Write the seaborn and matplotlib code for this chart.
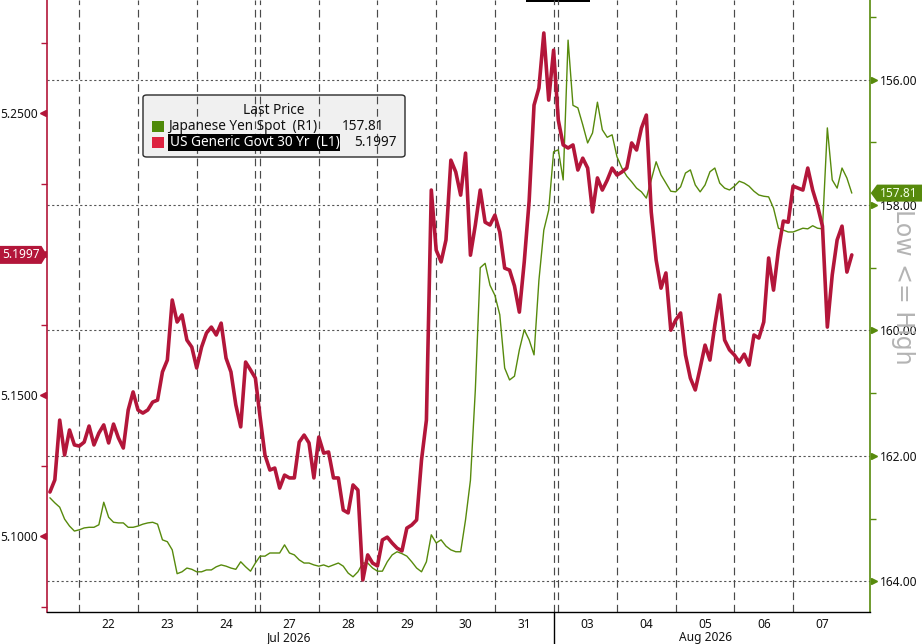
import numpy as np
import pandas as pd
import matplotlib
matplotlib.use("Agg")
import matplotlib.pyplot as plt
import matplotlib.transforms as mtransforms
from matplotlib.patches import Polygon, FancyBboxPatch, Rectangle
import seaborn as sns

# ---------------- data ----------------
days = ["21", "22", "23", "24", "27", "28", "29", "30", "31", "03", "04", "05", "06", "07"]
months = ["Jul 2026"] * 9 + ["Aug 2026"] * 5
weekend_after = ["24", "31"]          # a weekend follows these sessions
samples_per_day = [6, 12, 12, 13, 12, 12, 12, 12, 13, 12, 12, 12, 12, 13]

# US Generic Govt 30 Yr yield, sampled every 1/12 of a session
yld_values = [
    5.1156, 5.1199, 5.1411, 5.1287, 5.1376, 5.1323,                                   # 21
    5.1319, 5.1333, 5.1390, 5.1323, 5.1365, 5.1394, 5.1330, 5.1397, 5.1348, 5.1312, 5.1447, 5.1511,  # 22
    5.1447, 5.1436, 5.1447, 5.1475, 5.1482, 5.1582, 5.1624, 5.1837, 5.1759, 5.1784, 5.1695, 5.1670,  # 23
    5.1596, 5.1670, 5.1720, 5.1741, 5.1713, 5.1755, 5.1631, 5.1582, 5.1465, 5.1387, 5.1617, 5.1589, 5.1560,  # 24
    5.1422, 5.1287, 5.1234, 5.1241, 5.1170, 5.1216, 5.1206, 5.1206, 5.1333, 5.1358, 5.1330, 5.1206,  # 27
    5.1351, 5.1294, 5.1298, 5.1206, 5.1206, 5.1092, 5.1082, 5.1181, 5.1163, 5.0844, 5.0933, 5.0904,  # 28
    5.0894, 5.0986, 5.0996, 5.0975, 5.0957, 5.0947, 5.1028, 5.1039, 5.1057, 5.1270, 5.1411, 5.2227,  # 29
    5.2014, 5.1972, 5.2050, 5.2333, 5.2291, 5.2209, 5.2358, 5.1996, 5.2103, 5.2227, 5.2113, 5.2103,  # 30
    5.2138, 5.2078, 5.1950, 5.1943, 5.1887, 5.1794, 5.1972, 5.2188, 5.2528, 5.2589, 5.2784, 5.2546, 5.2723,  # 31
    5.2475, 5.2387, 5.2376, 5.2387, 5.2298, 5.2340, 5.2305, 5.2149, 5.2270, 5.2227, 5.2262, 5.2305,  # 03
    5.2280, 5.2291, 5.2305, 5.2394, 5.2369, 5.2447, 5.2493, 5.2149, 5.1979, 5.1879, 5.1933, 5.1730,  # 04
    5.1766, 5.1791, 5.1642, 5.1560, 5.1518, 5.1596, 5.1677, 5.1624, 5.1748, 5.1855, 5.1695, 5.1660,  # 05
    5.1642, 5.1617, 5.1645, 5.1606, 5.1713, 5.1702, 5.1759, 5.1986, 5.1872, 5.2014, 5.2117, 5.2113,  # 06
    5.2241, 5.2234, 5.2227, 5.2305, 5.2227, 5.2170, 5.2099, 5.1741, 5.1926, 5.2050, 5.2099, 5.1936, 5.1997,  # 07
]

# Japanese Yen Spot (USDJPY), same sampling
yen_values = [
    162.67, 162.75, 162.82, 163.01, 163.12, 163.20,                                   # 21
    163.18, 163.15, 163.14, 163.14, 163.10, 162.74, 162.98, 163.06, 163.07, 163.07, 163.14, 163.14,  # 22
    163.12, 163.09, 163.07, 163.06, 163.09, 163.34, 163.37, 163.50, 163.88, 163.85, 163.79, 163.81,  # 23
    163.85, 163.85, 163.82, 163.82, 163.77, 163.74, 163.76, 163.79, 163.81, 163.69, 163.77, 163.84, 163.71,  # 24
    163.60, 163.60, 163.55, 163.55, 163.55, 163.42, 163.55, 163.58, 163.66, 163.71, 163.71, 163.74,  # 27
    163.76, 163.74, 163.77, 163.74, 163.71, 163.76, 163.87, 163.93, 163.85, 163.71, 163.71, 163.79,  # 28
    163.84, 163.84, 163.69, 163.58, 163.53, 163.56, 163.60, 163.69, 163.79, 163.85, 163.69, 163.26,  # 29
    163.39, 163.34, 163.44, 163.50, 163.53, 163.53, 163.02, 162.39, 160.95, 159.00, 158.93, 159.28,  # 30
    159.44, 159.75, 160.60, 160.79, 160.73, 160.31, 159.99, 160.15, 160.39, 159.20, 158.40, 158.08, 157.15,  # 31
    157.12, 157.60, 155.37, 156.41, 156.45, 156.72, 157.01, 156.85, 156.36, 156.80, 156.92, 156.88,  # 03
    157.23, 157.41, 157.54, 157.63, 157.73, 157.79, 157.89, 157.60, 157.31, 157.52, 157.65, 157.78,  # 04
    157.79, 157.71, 157.49, 157.44, 157.68, 157.79, 157.68, 157.47, 157.41, 157.65, 157.73, 157.76,  # 05
    157.70, 157.62, 157.65, 157.70, 157.78, 157.84, 157.86, 157.87, 158.05, 158.37, 158.40, 158.43,  # 06
    158.43, 158.40, 158.37, 158.38, 158.33, 158.37, 158.38, 156.77, 157.60, 157.73, 157.41, 157.57, 157.81,  # 07
]

last_yen = 157.81
last_yld = 5.1997
yen_name = "Japanese Yen Spot  (R1)"
yld_name = "US Generic Govt 30 Yr  (L1)"
legend_title = "Last Price"

yen_ticks = [156, 158, 160, 162, 164]
yen_minor = [155, 157, 159, 161, 163]
yld_ticks = [5.10, 5.15, 5.20, 5.25]
yld_minor = [5.075, 5.125, 5.175, 5.225, 5.275]

# ---------------- layout / style ----------------
W, H = 922, 644
RED = "#B3163A"
RED_SQ = "#DD2240"
GREEN = "#578A0C"
GREEN_SQ = "#4F8A0A"
SPD = 12
GAP = 0.08
FS = 8.6
LFS = 9.8

sns.set_style("white")
plt.rcParams["font.family"] = ["Noto Sans", "DejaVu Sans"]

# trading-time x positions with small weekend gaps
day_x0 = []
off = 0.0
for k, d in enumerate(days):
    day_x0.append(k + off)
    if d in weekend_after:
        off += GAP

xs = []
for k, n in enumerate(samples_per_day):
    j0 = SPD - n if k == 0 else 0
    for j in range(n):
        xs.append(day_x0[k] + (j0 + j) / SPD)

df = pd.DataFrame({"x": xs, "yld": yld_values, "yen": yen_values})

fig = plt.figure(figsize=(W / 100, H / 100), dpi=100)
ax = fig.add_axes([47 / W, 32 / H, 823 / W, 612 / H])
ax2 = ax.twinx()
ax.set_zorder(3)
ax2.set_zorder(2)
ax.patch.set_visible(False)

x_lo, x_hi = 0.45, 14.47
yld_lo, yld_hi = 5.07305, 5.2901
yen_bot, yen_top = 164.491, 154.730
ax.set_xlim(x_lo, x_hi)
ax.set_ylim(yld_lo, yld_hi)
ax2.set_ylim(yen_bot, yen_top)

# grid: dotted horizontals on yen axis, dashed session boundaries
for v in yen_ticks:
    ax2.axhline(v, color="#555555", lw=0.8, ls=(0, (2, 2.2)), zorder=0.5)
bounds = []
for k in range(1, len(days)):
    if days[k - 1] in weekend_after:
        bounds.append(day_x0[k - 1] + 1)
    bounds.append(day_x0[k])
for b in bounds:
    ax2.axvline(b, color="#4a4a4a", lw=0.85, ls=(0, (6.5, 4)), zorder=0.6)

# series
sns.lineplot(data=df, x="x", y="yen", ax=ax2, color=GREEN, lw=1.0,
             estimator=None, sort=False, zorder=2)
sns.lineplot(data=df, x="x", y="yld", ax=ax, color=RED, lw=2.6,
             estimator=None, sort=False, zorder=3,
             solid_joinstyle="round", solid_capstyle="round")

for a in (ax, ax2):
    a.set_xlabel("")
    a.set_ylabel("")

# spines
for s in ["top", "right"]:
    ax.spines[s].set_visible(False)
ax.spines["left"].set_color(RED)
ax.spines["left"].set_linewidth(1.2)
ax.spines["bottom"].set_color("black")
ax.spines["bottom"].set_linewidth(1.0)
for s in ["top", "left", "bottom"]:
    ax2.spines[s].set_visible(False)
ax2.spines["right"].set_color(GREEN)
ax2.spines["right"].set_linewidth(1.2)

# x ticks: day labels at session centers
ax.set_xticks([day_x0[k] + 0.5 for k in range(1, len(days))])
ax.set_xticklabels(days[1:], fontsize=FS, color="#111111")
ax.tick_params(axis="x", length=0, pad=4)
xtrans = mtransforms.blended_transform_factory(ax.transData, ax.transAxes)
for m in ["Jul 2026", "Aug 2026"]:
    idx = [i for i, mm in enumerate(months) if mm == m]
    mid = idx[len(idx) // 2]
    ax.text(day_x0[mid] + 0.5, -26 / 612, m, transform=xtrans, ha="center",
            va="center", fontsize=FS, color="#111111")
# month separator below the axis
jul_end = day_x0[months.index("Aug 2026") - 1] + 1
ax.plot([jul_end, jul_end], [0, -32 / 612], transform=xtrans, color="black",
        lw=1.0, clip_on=False)

# left (yield) ticks; the 5.2000 label sits under the last-value tag
ax.set_yticks(yld_ticks)
ax.set_yticklabels(["" if abs(v - 5.20) < 1e-9 else f"{v:.4f}" for v in yld_ticks],
                   fontsize=FS, color="#111111")
ax.set_yticks(yld_minor, minor=True)
ax.tick_params(axis="y", which="major", length=0, pad=6.8)
ax.tick_params(axis="y", which="minor", length=4, width=1, color=RED, direction="out")
ax.plot(np.full(len(yld_ticks), -4 / 823), yld_ticks, ls="none", marker="<", ms=5,
        color=RED, transform=ax.get_yaxis_transform(), clip_on=False)

# right (yen) ticks
ax2.set_yticks(yen_ticks)
ax2.set_yticklabels([f"{v:.2f}" for v in yen_ticks], fontsize=FS, color="#111111")
ax2.set_yticks(yen_minor, minor=True)
ax2.tick_params(axis="y", which="major", length=0, pad=7.2)
ax2.tick_params(axis="y", which="minor", length=4, width=1, color=GREEN, direction="out")
ax2.plot(np.full(len(yen_ticks), 1 + 4 / 823), yen_ticks, ls="none", marker=">", ms=5,
         color=GREEN, transform=ax2.get_yaxis_transform(), clip_on=False)

# last value tags
yld_px = (yld_hi - yld_lo) / 612
yen_px = (yen_bot - yen_top) / 612
lt = mtransforms.blended_transform_factory(fig.transFigure, ax.transData)
ax.add_patch(Polygon([(0, last_yld + 9 * yld_px), (41.5 / W, last_yld + 9 * yld_px),
                      (47 / W, last_yld), (41.5 / W, last_yld - 9 * yld_px),
                      (0, last_yld - 9 * yld_px)], closed=True, transform=lt,
                     fc=RED, ec="none", clip_on=False, zorder=10))
ax.text(20.5 / W, last_yld, f"{last_yld:.4f}", transform=lt, ha="center", va="center",
        fontsize=FS, color="white", zorder=11)
rt = mtransforms.blended_transform_factory(fig.transFigure, ax2.transData)
ax2.add_patch(Polygon([(870.7 / W, last_yen), (877 / W, last_yen - 8.5 * yen_px),
                       (1, last_yen - 8.5 * yen_px), (1, last_yen + 8.5 * yen_px),
                       (877 / W, last_yen + 8.5 * yen_px)], closed=True, transform=rt,
                      fc=GREEN, ec="none", clip_on=False, zorder=10))
ax2.text(899 / W, last_yen, f"{last_yen:.2f}", transform=rt, ha="center", va="center",
         fontsize=FS, color="#F2FFE6", zorder=11)

# axis direction hint
fig.text(903 / W, 1 - 287 / H, "Low <= High", rotation=270, ha="center", va="center",
         fontsize=17, color="#B4B4B4", family="DejaVu Sans")

# legend box
fig.add_artist(FancyBboxPatch((143 / W, 1 - 157 / H), 262 / W, 62 / H,
                              boxstyle="round,pad=0,rounding_size=0.004",
                              transform=fig.transFigure, fc="#F0F0F0", ec="#2A2A2A", lw=1.0))
fig.text(274 / W, 1 - 111 / H, legend_title, ha="center", va="center", fontsize=LFS,
         color="#111111")
fig.add_artist(Rectangle((152 / W, 1 - 132 / H), 12 / W, 11 / H, transform=fig.transFigure,
                         fc=GREEN_SQ, ec="none"))
fig.text(168.5 / W, 1 - 127 / H, yen_name, ha="left", va="center", fontsize=LFS, color="#111111")
fig.text(384 / W, 1 - 127 / H, f"{last_yen:.2f}", ha="right", va="center", fontsize=LFS,
         color="#111111")
fig.add_artist(Rectangle((152 / W, 1 - 147.5 / H), 12 / W, 11 / H, transform=fig.transFigure,
                         fc=RED_SQ, ec="none"))
fig.text(169.5 / W, 1 - 142.5 / H, yld_name, ha="left", va="center", fontsize=LFS, color="white",
         bbox=dict(boxstyle="square,pad=0.08", fc="black", ec="none"))
fig.text(397 / W, 1 - 142.5 / H, f"{last_yld:.4f}", ha="right", va="center", fontsize=LFS,
         color="#111111")

# cut-off label edge at the top
fig.add_artist(Rectangle((526 / W, 1 - 2 / H), 64 / W, 2 / H, transform=fig.transFigure,
                         fc="black", ec="none"))

fig.savefig("out.png", dpi=100)
